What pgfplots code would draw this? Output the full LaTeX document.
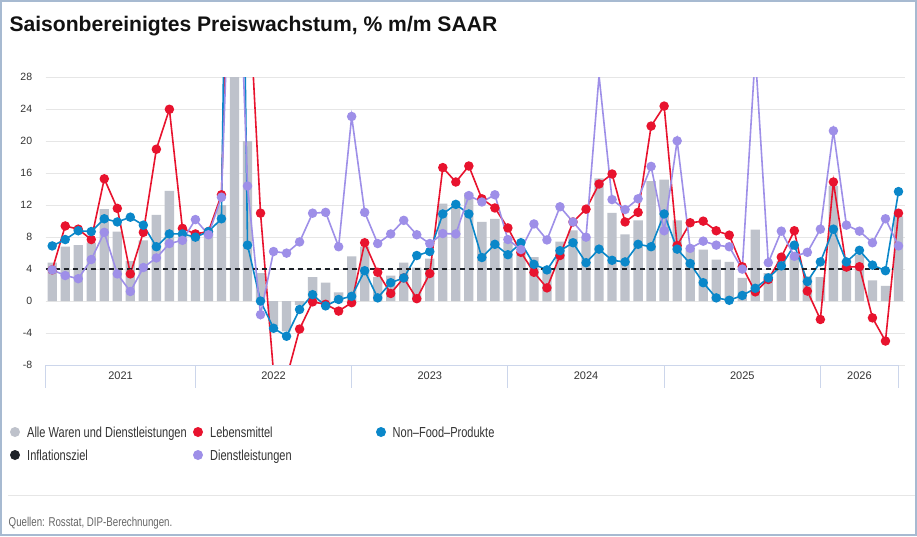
\documentclass[border=0pt]{standalone}
\usepackage{fontspec}
\setmainfont{Liberation Sans}
\newfontfamily\condfont[FakeStretch=0.76]{Liberation Sans}
\usepackage{pgfplots}
\usepackage{pgfplotstable}
\pgfplotsset{compat=1.18}

\definecolor{bargray}{HTML}{BEC2CB}
\definecolor{lmred}{HTML}{E8132E}
\definecolor{nfblue}{HTML}{0A87C9}
\definecolor{dlpurple}{HTML}{9E8FE8}
\definecolor{zielblack}{HTML}{1E2228}
\definecolor{gridc}{HTML}{E6E6E6}
\definecolor{axisc}{HTML}{CCD6EB}
\definecolor{framec}{HTML}{A7BAD1}
\definecolor{txt}{HTML}{333333}
\definecolor{footc}{HTML}{666666}

% i  alle  lebensmittel  nonfood  dienst
\pgfplotstableread{
i alle leb nf dl
0 4.8 3.9 6.9 3.9
1 6.8 9.4 7.7 3.2
2 7.0 9.0 8.8 2.8
3 7.3 7.7 8.7 5.2
4 11.5 15.3 10.3 8.6
5 8.7 11.6 9.9 3.4
6 5.0 3.4 10.5 1.2
7 7.6 8.6 9.5 4.2
8 10.8 19.0 6.8 5.4
9 13.8 24.0 8.4 7.2
10 8.5 9.1 8.4 7.6
11 8.1 8.4 8.0 10.2
12 8.6 8.7 8.7 8.3
13 12.0 13.3 10.3 13.0
14 40 74 130 60
15 20.0 42 7.0 14.4
16 3.5 11.0 0.0 -1.7
17 -3.1 -9.0 -3.4 6.2
18 -3.8 -9.6 -4.4 6.0
19 -0.5 -3.5 -1.05 7.4
20 3.0 -0.1 0.8 11.0
21 2.3 -0.4 -0.6 11.1
22 1.1 -1.25 0.2 6.8
23 5.6 -0.2 0.6 23.1
24 6.8 7.3 3.8 11.1
25 3.0 3.6 0.4 7.2
26 3.2 0.95 2.3 8.4
27 4.8 2.9 2.9 10.1
28 4.2 0.3 5.7 8.3
29 5.3 3.45 6.2 7.2
30 12.2 16.7 10.9 8.45
31 12.0 14.9 12.1 8.4
32 13.5 16.9 10.9 13.2
33 9.9 12.8 5.45 12.4
34 10.3 11.65 7.1 13.3
35 7.4 9.15 5.8 7.7
36 6.0 6.1 7.3 6.45
37 5.5 3.6 4.6 9.65
38 3.8 1.65 3.9 7.65
39 7.45 5.7 6.3 11.8
40 8.85 9.9 7.3 9.9
41 8.0 11.5 4.8 8.0
42 15.35 14.65 6.5 28.2
43 11.05 15.9 5.1 12.7
44 8.35 9.9 4.9 11.45
45 10.1 11.1 7.1 12.8
46 15.0 21.9 6.8 16.85
47 15.2 24.4 10.9 8.8
48 10.1 6.95 6.5 20.05
49 6.6 9.8 4.7 6.6
50 6.45 10.0 2.3 7.5
51 5.2 8.8 0.4 7.0
52 4.9 8.25 0.1 6.8
53 2.9 4.3 0.7 4.0
54 8.95 1.15 1.6 31
55 3.5 2.7 2.9 4.8
56 5.0 5.5 4.4 8.75
57 5.6 8.8 7.0 5.6
58 3.1 1.25 2.45 6.1
59 3.0 -2.3 4.9 9.0
60 14.4 14.9 9.0 21.3
61 5.2 4.25 4.9 9.5
62 5.8 4.3 6.35 8.75
63 2.6 -2.1 4.5 7.3
64 1.9 -5.0 3.8 10.3
65 10.6 11.0 13.7 6.9
}\data

\begin{document}
\begin{tikzpicture}
\useasboundingbox (0pt,0pt) rectangle (917pt,-536pt);
\fill[white] (0pt,0pt) rectangle (917pt,-536pt);

\begin{axis}[
  at={(45.7pt,-365pt)}, anchor=south west, scale only axis,
  width=859.3pt, height=287.7pt,
  xmin=-0.5, xmax=65.5, ymin=-8, ymax=28,
  ytick={-8,-4,0,4,8,12,16,20,24,28},
  ymajorgrids, grid style={draw=gridc, line width=0.8pt},
  axis line style={draw=none},
  ytick style={draw=none},
  xtick style={draw=none},
  xtick={5.25,17,29,41,53,62},
  xticklabels={2021,2022,2023,2024,2025,2026},
  xticklabel style={font=\fontsize{11}{13}\selectfont, text=txt, anchor=center, yshift=-11pt},
  yticklabel style={font=\fontsize{10.5}{12}\selectfont, text=txt, anchor=east, xshift=-10pt},
  /pgf/number format/assume math mode=true,
]
\addplot[ybar, bar width=9.3pt, fill=bargray, draw=none] table[x=i, y=alle] {\data};
\addplot[lmred, line width=1.6pt, mark=*, mark size=3.9pt, mark options={fill=lmred, draw=none}] table[x=i, y=leb] {\data};
\addplot[nfblue, line width=1.6pt, mark=*, mark size=3.9pt, mark options={fill=nfblue, draw=none}] table[x=i, y=nf] {\data};
\addplot[zielblack, line width=1.6pt, dash pattern=on 5.5pt off 3.5pt] coordinates {(-0.5,4) (64.5,4)};
\addplot[dlpurple, line width=1.6pt, mark=*, mark size=3.9pt, mark options={fill=dlpurple, draw=none}] table[x=i, y=dl] {\data};
\end{axis}

\begin{scope}[x=1pt,y=1pt]
% bottom axis line and year separators
\draw[axisc, line width=0.9pt] (45.7,-365) -- (898.5,-365);
\foreach \xx in {45.7,195.4,351.6,507.9,664.1,820.4,898.5}
  \draw[axisc, line width=0.9pt] (\xx,-365) -- (\xx,-388);

% title
\node[anchor=base west, inner sep=0pt, text=black!93] at (9.3,-31.7)
  {\fontsize{21.1}{24}\selectfont\bfseries Saisonbereinigtes Preiswachstum, \% m/m SAAR};

% legend
\fill[bargray] (15,-432) circle (5);
\node[anchor=base west, inner sep=0pt, text=txt] at (27,-437.3) {\condfont\fontsize{14.5}{16}\selectfont Alle Waren und Dienstleistungen};
\fill[lmred] (198,-432) circle (5);
\node[anchor=base west, inner sep=0pt, text=txt] at (210,-437.3) {\condfont\fontsize{14.5}{16}\selectfont Lebensmittel};
\fill[nfblue] (381,-432) circle (5);
\node[anchor=base west, inner sep=0pt, text=txt] at (392.5,-437.3) {\condfont\fontsize{14.5}{16}\selectfont Non–Food–Produkte};
\fill[zielblack] (15,-455) circle (5);
\node[anchor=base west, inner sep=0pt, text=txt] at (27,-460.3) {\condfont\fontsize{14.5}{16}\selectfont Inflationsziel};
\fill[dlpurple] (198,-455) circle (5);
\node[anchor=base west, inner sep=0pt, text=txt] at (210,-460.3) {\condfont\fontsize{14.5}{16}\selectfont Dienstleistungen};

% footer
\draw[gridc, line width=0.9pt] (8,-495.7) -- (915,-495.7);
\node[anchor=base west, inner sep=0pt, text=footc] at (8.5,-526.7) {\condfont\fontsize{12.8}{14}\selectfont Quellen: Rosstat, DIP-Berechnungen.};

% frame
\draw[framec, line width=2pt] (1,-1) rectangle (916,-535);
\end{scope}
\end{tikzpicture}
\end{document}
